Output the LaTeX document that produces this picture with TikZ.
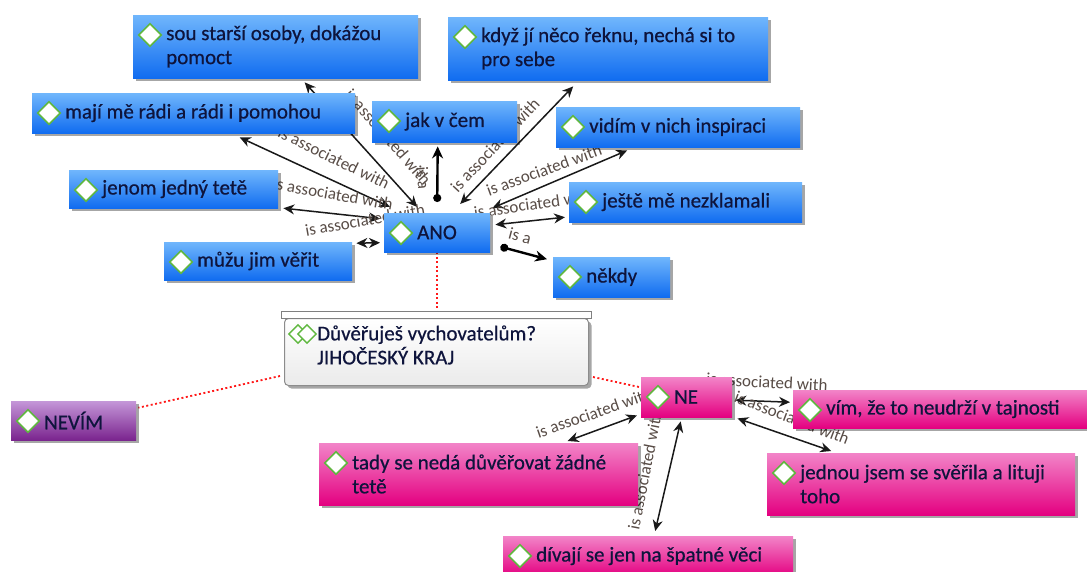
\documentclass[tikz,border=0pt]{standalone}
\usepackage{fontspec}
\setmainfont{Carlito}
\newfontface\boxfont{Carlito}[FakeBold=0.6]
\usetikzlibrary{arrows.meta,calc,shadows,shapes.geometric}
\pgfdeclarelayer{bg}
\pgfsetlayers{bg,main}
\definecolor{txtc}{RGB}{14,20,60}
\definecolor{lblc}{RGB}{88,76,70}
\definecolor{bluetop}{RGB}{112,182,252}
\definecolor{bluebot}{RGB}{16,108,240}
\definecolor{pinktop}{RGB}{242,132,200}
\definecolor{pinkbot}{RGB}{228,0,128}
\definecolor{purtop}{RGB}{196,150,216}
\definecolor{purbot}{RGB}{122,36,142}
\definecolor{diagreen}{RGB}{96,184,64}
\tikzset{
  cbox/.style={anchor=north west, inner sep=0pt, draw=none,
    drop shadow={shadow xshift=3pt, shadow yshift=-3pt, fill=black, opacity=0.35}},
  bluebox/.style={cbox, top color=bluetop, bottom color=bluebot},
  pinkbox/.style={cbox, top color=pinktop, bottom color=pinkbot},
  purplebox/.style={cbox, top color=purtop, bottom color=purbot},
  txt/.style={anchor=west, inner sep=0pt, align=left, font=\boxfont\fontsize{21}{24}\selectfont, text=txtc},
  dia/.style={diamond, draw=diagreen, fill=white, line width=1.6pt, minimum width=23pt, minimum height=23pt, inner sep=0pt},
  lbl/.style={font=\fontsize{17}{18}\selectfont, text=lblc, inner sep=0pt},
  assoc/.style={{Stealth[length=11pt,width=10pt]}-{Stealth[length=11pt,width=10pt]}, line width=1.5pt, draw=black!90},
  isa/.style={{Circle[length=8pt]}-{Stealth[length=12pt,width=11pt]}, line width=2.4pt, draw=black},
  reddot/.style={draw=red!90, dash pattern=on 2pt off 2.5pt, line width=1.8pt},
}
\newcommand{\conceptbox}[7]{%
  \node[#2, minimum width=#5pt, minimum height=#6pt] (#1) at (#3,#4) {};
  \node[dia] (#1-d) at ($(#1.north west)+(17,20)$) {};
  \node[txt] (#1-t) at ($(#1.north west)+(33,#6/2)$) {#7};
}
\begin{document}
\begin{tikzpicture}[x=1pt, y=-1pt]
\useasboundingbox (0,0) rectangle (1087,572);

% blue nodes
\conceptbox{sou}{bluebox}{133}{15}{285}{63}{sou starší osoby, dokážou\\pomoct}
\conceptbox{kdyz}{bluebox}{448}{17}{320}{63}{když jí něco řeknu, nechá si to\\pro sebe}
\conceptbox{maji}{bluebox}{32}{93}{323}{40}{mají mě rádi a rádi i pomohou}
\conceptbox{jak}{bluebox}{372}{101}{145}{41}{jak v čem}
\conceptbox{vidim}{bluebox}{556}{107}{244}{40}{vidím v nich inspiraci}
\conceptbox{jenom}{bluebox}{69}{170}{209}{38}{jenom jedný tetě}
\conceptbox{jeste}{bluebox}{569}{182}{233}{40}{ještě mě nezklamali}
\conceptbox{ANO}{bluebox}{384}{213}{106}{39}{ANO}
\conceptbox{muzu}{bluebox}{164}{242}{188}{38}{můžu jim věřit}
\conceptbox{nekdy}{bluebox}{553}{257}{117}{40}{někdy}
% purple / pink nodes
\conceptbox{NEVIM}{purplebox}{11}{401}{125}{39}{NEVÍM}
\conceptbox{NE}{pinkbox}{641}{377}{91}{40}{NE}
\conceptbox{vim}{pinkbox}{793}{390}{300}{38}{vím, že to neudrží v tajnosti}
\conceptbox{tady}{pinkbox}{319}{443}{319}{62}{tady se nedá důvěřovat žádné\\tetě}
\conceptbox{jednou}{pinkbox}{767}{453}{308}{62}{jednou jsem se svěřila a lituji\\toho}
\conceptbox{divaji}{pinkbox}{503}{536}{290}{40}{dívají se jen na špatné věci}

% question node
\node[anchor=north west, inner sep=0pt, minimum width=304pt, minimum height=67pt,
      draw=black!45, line width=1pt, rounded corners=4pt, top color=white, bottom color=black!8,
      drop shadow={shadow xshift=3pt, shadow yshift=-3pt, fill=black, opacity=0.35}] (q) at (284,318) {};
\node[anchor=north west, inner sep=0pt, minimum width=310pt, minimum height=7pt,
      draw=black!50, fill=white, line width=1pt] (qbar) at (281,311) {};
\node[diamond, draw=diagreen, fill=white, line width=1.4pt, minimum width=19pt, minimum height=19pt, inner sep=0pt] (qd1) at (298,334) {};
\node[diamond, draw=diagreen, fill=white, line width=1.4pt, minimum width=19pt, minimum height=19pt, inner sep=0pt] (qd2) at (307,334) {};
\node[txt] (q-t) at (317,345) {Důvěřuješ vychovatelům?\\JIHOČESKÝ KRAJ};

\begin{pgfonlayer}{bg}
\fill[white] (0,0) rectangle (1087,572);
% dotted links
\draw[reddot] (ANO.south) -- (ANO.south |- qbar.north);
\draw[reddot] ($(q.west)+(-4,24)$) -- ($(NEVIM.east)+(2,-13)$);
\draw[reddot] ($(q.east)+(4,25)$) -- ($(NE.west)+(-1,-10)$);

% ANO connectors
\draw[assoc] ($(ANO.north)+(-20,-6)$) -- ($(sou.south)+(29,4)$);
\draw[assoc] ($(ANO.north west)+(6,-6)$) -- ($(maji.south)+(46,4)$);
\draw[assoc] ($(ANO.west)+(-4,-14)$) -- ($(jenom.east)+(5,19)$);
\draw[assoc] ($(ANO.west)+(-4,10)$) -- ($(muzu.east)+(4,-18)$);
\draw[isa] ($(ANO.north)+(0,-11)$) -- ($(jak.south)+(-7,4)$);
\draw[assoc] ($(ANO.north)+(23,-9)$) -- ($(kdyz.south)+(-35,6)$);
\draw[assoc] ($(ANO.north east)+(2,-5)$) -- ($(vidim.south)+(-51,3)$);
\draw[assoc] ($(ANO.east)+(5,-8)$) -- ($(jeste.west)+(-4,15)$);
\draw[isa] ($(ANO.east)+(10,14)$) -- ($(nekdy.west)+(-6,-18)$);

% NE connectors
\draw[assoc] ($(NE.south west)+(-4,-2)$) -- ($(tady.north)+(89,-2)$);
\draw[assoc] ($(NE.south)+(-6,4)$) -- ($(divaji.north)+(7,-5)$);
\draw[assoc] ($(NE.east)+(3,3)$) -- ($(vim.west)+(-3,-7)$);
\draw[assoc] ($(NE.south east)+(5,1)$) -- ($(jednou.north)+(-90,-2)$);

% labels
\node[lbl, rotate=-49] (l-sou) at (388,137) {is associated with};
\node[lbl, rotate=-26] (l-maji) at (334,158) {is associated with};
\node[lbl, rotate=-10] (l-jenom) at (333,194) {is associated with};
\node[lbl, rotate=10] (l-muzu) at (365,220) {is associated with};
\node[lbl, rotate=-85] (l-jak) at (423,178) {is a};
\node[lbl, rotate=47] (l-kdyz) at (495,145) {is associated with};
\node[lbl, rotate=20] (l-vidim) at (544,170) {is associated with};
\node[lbl, rotate=8] (l-jeste) at (534,204) {is associated with};
\node[lbl, rotate=-15] (l-nekdy) at (520,236) {is a};
\node[lbl, rotate=19] (l-tady) at (594,413) {is associated with};
\node[lbl, rotate=79] (l-divaji) at (645,470) {is associated with};
\node[lbl, rotate=-3] (l-vim) at (767,382) {is associated with};
\node[lbl, rotate=-21] (l-jednou) at (792,418) {is associated with};
\end{pgfonlayer}
\end{tikzpicture}
\end{document}
